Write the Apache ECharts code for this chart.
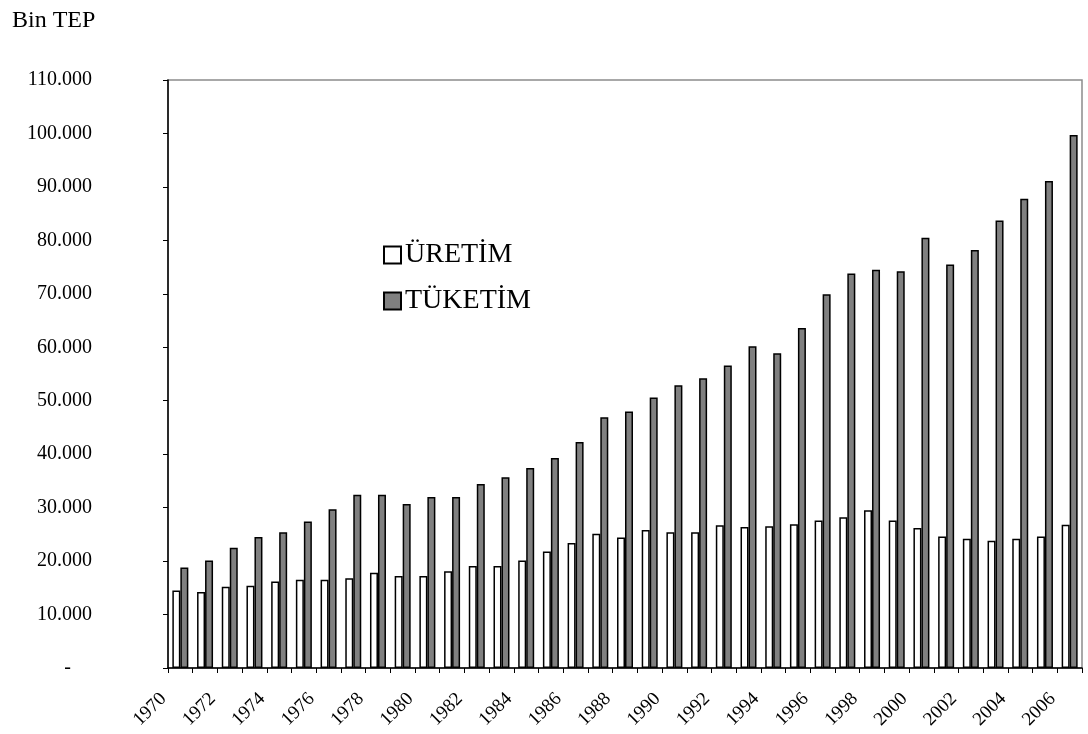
<!DOCTYPE html>
<html>
<head>
<meta charset="utf-8">
<script src="https://cdn.jsdelivr.net/npm/echarts@6/dist/echarts.min.js"></script>
<style>
  html, body { margin: 0; padding: 0; background: #ffffff; }
  #chart { width: 1088px; height: 734px; }
</style>
</head>
<body>
<div id="chart"></div>
<script>
// Türkiye birincil enerji üretimi ve tüketimi (bin TEP), 1970–2006
const years = ['1970','1971','1972','1973','1974','1975','1976','1977','1978','1979',
  '1980','1981','1982','1983','1984','1985','1986','1987','1988','1989',
  '1990','1991','1992','1993','1994','1995','1996','1997','1998','1999',
  '2000','2001','2002','2003','2004','2005','2006'];

const uretim = [14500, 14200, 15200, 15400, 16200, 16500, 16500, 16800, 17800, 17200,
  17200, 18100, 19100, 19100, 20100, 21800, 23400, 25100, 24400, 25800,
  25400, 25400, 26700, 26400, 26500, 26900, 27600, 28200, 29500, 27600,
  26200, 24600, 24200, 23800, 24200, 24600, 26800];

const tuketim = [18800, 20100, 22500, 24500, 25400, 27400, 29700, 32400, 32400, 30700,
  32000, 32000, 34400, 35700, 37400, 39300, 42300, 46900, 48000, 50600,
  52900, 54200, 56600, 60200, 58900, 63600, 69900, 73800, 74500, 74200,
  80500, 75500, 78200, 83700, 87800, 91100, 99700];

const seriesNames = ['ÜRETİM', 'TÜKETİM'];
const unitLabel = 'Bin TEP';

const serif = 'Liberation Serif, Times New Roman, serif';

function yLabel(v) {
  if (v === 0) return '{dash|-}';
  return (v / 1000).toFixed(0) + '.000';
}

const chart = echarts.init(document.getElementById('chart'), null, { renderer: 'canvas' });

chart.setOption({
  animation: false,
  backgroundColor: '#ffffff',
  title: {
    text: unitLabel,
    left: 7,
    top: 4,
    textStyle: { fontFamily: serif, fontSize: 24, fontWeight: 'normal', color: '#000' }
  },
  legend: {
    orient: 'vertical',
    left: 378,
    top: 236,
    itemWidth: 17,
    itemHeight: 17,
    itemGap: 18,
    icon: 'rect',
    data: seriesNames,
    textStyle: { fontFamily: serif, fontSize: 28, lineHeight: 27, color: '#000', padding: [0, 0, 0, -1] }
  },
  grid: {
    left: 168,
    right: 6,
    top: 80,
    bottom: 66,
    show: true,
    borderColor: '#8c8c8c',
    borderWidth: 1.5
  },
  xAxis: {
    type: 'category',
    data: years,
    axisLine: { lineStyle: { color: '#000', width: 1.5 } },
    axisTick: { show: true, interval: 0, length: 5, lineStyle: { color: '#000' } },
    axisLabel: {
      interval: 1,
      rotate: 45,
      margin: 11,
      padding: [0, 24, 0, 0],
      fontFamily: serif,
      fontSize: 19,
      color: '#000'
    },
    splitLine: { show: false }
  },
  yAxis: {
    type: 'value',
    min: 0,
    max: 110000,
    interval: 10000,
    axisLine: { show: true, lineStyle: { color: '#000', width: 1.5 } },
    axisTick: { show: true, length: 5, lineStyle: { color: '#000' } },
    splitLine: { show: false },
    axisLabel: {
      margin: 76,
      fontFamily: serif,
      fontSize: 20,
      color: '#000',
      formatter: yLabel,
      rich: { dash: { fontFamily: serif, fontSize: 20, color: '#000', padding: [0, 21, 0, 0] } }
    }
  },
  series: [
    {
      name: seriesNames[0],
      type: 'bar',
      data: uretim,
      barWidth: 8,
      barGap: '0%',
      itemStyle: { color: '#ffffff', borderColor: '#000', borderWidth: 1.5 }
    },
    {
      name: seriesNames[1],
      type: 'bar',
      data: tuketim,
      barWidth: 8,
      barGap: '0%',
      itemStyle: { color: '#808080', borderColor: '#000', borderWidth: 1.5 }
    }
  ]
});
</script>
</body>
</html>
